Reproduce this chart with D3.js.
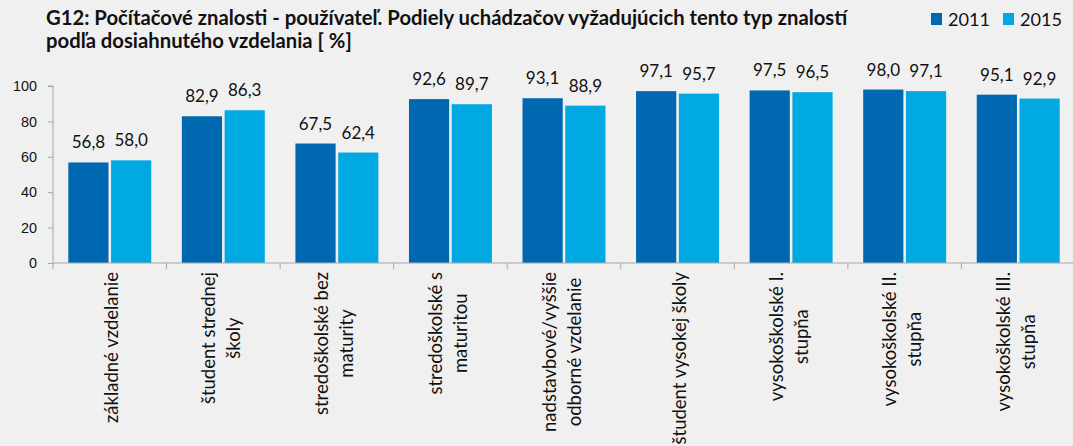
<!DOCTYPE html>
<html lang="sk">
<head>
<meta charset="UTF-8">
<title>G12</title>
<script src="https://cdnjs.cloudflare.com/ajax/libs/d3/7.8.5/d3.min.js"></script>
<style>
  html, body { margin: 0; padding: 0; background: #f0f0f0; }
  svg { display: block; font-family: Lato, "Noto Sans", sans-serif; }
  .axis path, .axis line { stroke: #a6a6a6; }
  .axis text { fill: #111; }
</style>
</head>
<body>
<div id="chart"></div>
<script>
// data
const titleLines = [
  "G12: Počítačové znalosti - používateľ. Podiely uchádzačov vyžadujúcich tento typ znalostí",
  "podľa dosiahnutého vzdelania [ %]"
];
const categories = [
  "základné vzdelanie",
  "študent strednej\nškoly",
  "stredoškolské bez\nmaturity",
  "stredoškolské s\nmaturitou",
  "nadstavbové/vyššie\nodborné vzdelanie",
  "študent vysokej školy",
  "vysokoškolské I.\nstupňa",
  "vysokoškolské II.\nstupňa",
  "vysokoškolské III.\nstupňa"
];
const seriesNames = ["2011", "2015"];
const values2011 = [56.8, 82.9, 67.5, 92.6, 93.1, 97.1, 97.5, 98.0, 95.1];
const values2015 = [58.0, 86.3, 62.4, 89.7, 88.9, 95.7, 96.5, 97.1, 92.9];
const yTicks = [0, 20, 40, 60, 80, 100];
const colors = ["#0068b1", "#00a9e2"];

const width = 1073, height = 446;
const plot = { left: 53, right: 1075, top: 86, bottom: 263 };

const svg = d3.select("#chart").append("svg")
  .attr("width", width)
  .attr("height", height);

// font size that makes a sample string a given width
function fitSize(sample, target, weight) {
  const t = svg.append("text").attr("font-size", 20)
    .attr("font-weight", weight || "normal").text(sample);
  const w = t.node().getComputedTextLength();
  t.remove();
  return 20 * target / w;
}

const titleSize = fitSize(titleLines[0], 802, "bold");
const valueSize = fitSize("56,8", 33.5);
const tickSize = fitSize("100", 25);
const labelSize = fitSize("základné vzdelanie", 151);
const legendSize = fitSize("2011", 42);

// title
svg.append("g").selectAll("text")
  .data(titleLines)
  .join("text")
  .attr("x", 46)
  .attr("y", (d, i) => 25 + i * 22.5)
  .attr("font-weight", "bold")
  .attr("font-size", titleSize)
  .attr("fill", "#111")
  .text(d => d);

// scales
const x0 = d3.scaleBand()
  .domain(d3.range(categories.length))
  .range([plot.left, plot.right])
  .padding(0);
const x1 = d3.scaleBand()
  .domain(seriesNames)
  .range([15.3, x0.bandwidth() - 15.3])
  .paddingInner(0.06);
const y = d3.scaleLinear()
  .domain([0, 100])
  .range([plot.bottom, plot.top]);

const fmt = v => d3.format(".1f")(v).replace(".", ",");

const series = [values2011, values2015];

// bars
const groups = svg.append("g")
  .selectAll("g")
  .data(categories.map((c, i) => i))
  .join("g")
  .attr("transform", i => `translate(${x0(i)},0)`);

groups.selectAll("rect")
  .data(i => seriesNames.map((s, k) => ({ s, k, v: series[k][i] })))
  .join("rect")
  .attr("x", d => x1(d.s))
  .attr("width", x1.bandwidth())
  .attr("y", d => y(d.v))
  .attr("height", d => y(0) - y(d.v))
  .attr("fill", d => colors[d.k]);

groups.selectAll("text")
  .data(i => seriesNames.map((s, k) => ({ s, k, v: series[k][i] })))
  .join("text")
  .attr("x", d => x1(d.s) + x1.bandwidth() / 2)
  .attr("y", d => y(d.v) - 14)
  .attr("text-anchor", "middle")
  .attr("font-size", valueSize)
  .attr("fill", "#111")
  .text(d => fmt(d.v));

// y axis
const yAxis = svg.append("g")
  .attr("class", "axis")
  .attr("transform", `translate(${plot.left},0)`)
  .call(d3.axisLeft(y).tickValues(yTicks).tickSize(5).tickPadding(11));
yAxis.selectAll("text").attr("font-size", tickSize);
yAxis.select(".domain").attr("d", `M-5,${plot.top}H0V${plot.bottom}`);

// x axis: ticks at band boundaries
const xAxis = svg.append("g")
  .attr("class", "axis")
  .attr("transform", `translate(0,${plot.bottom})`);
xAxis.append("line")
  .attr("x1", plot.left).attr("x2", plot.right)
  .attr("y1", 0).attr("y2", 0)
  .attr("stroke", "#a6a6a6");
xAxis.selectAll("line.tick")
  .data(d3.range(categories.length + 1))
  .join("line")
  .attr("class", "tick")
  .attr("x1", i => plot.left + i * x0.bandwidth())
  .attr("x2", i => plot.left + i * x0.bandwidth())
  .attr("y1", 0).attr("y2", 6)
  .attr("stroke", "#a6a6a6");

// rotated category labels, lines centered inside the block
const lineGap = 25;
const labelTop = 272;
const labels = svg.append("g");
categories.forEach((c, i) => {
  const lines = c.split("\n");
  const cx = x0(i) + x0.bandwidth() / 2;
  const texts = labels.append("g").selectAll("text")
    .data(lines)
    .join("text")
    .attr("font-size", labelSize)
    .attr("fill", "#111")
    .attr("text-anchor", "middle")
    .text(d => d);
  const maxLen = d3.max(texts.nodes(), n => n.getComputedTextLength());
  texts.attr("transform", (d, k) => {
    const bx = cx + 8 + (k - (lines.length - 1) / 2) * lineGap - (lines.length > 1 ? 4 : 0);
    return `translate(${bx},${labelTop + maxLen / 2}) rotate(-90)`;
  });
});

// legend
const legend = svg.append("g");
const legendX = [931, 1003];
seriesNames.forEach((s, k) => {
  legend.append("rect")
    .attr("x", legendX[k]).attr("y", 13)
    .attr("width", 11).attr("height", 12)
    .attr("fill", colors[k]);
  legend.append("text")
    .attr("x", legendX[k] + 17).attr("y", 25.5)
    .attr("font-size", legendSize)
    .attr("fill", "#111")
    .text(s);
});
</script>
</body>
</html>
